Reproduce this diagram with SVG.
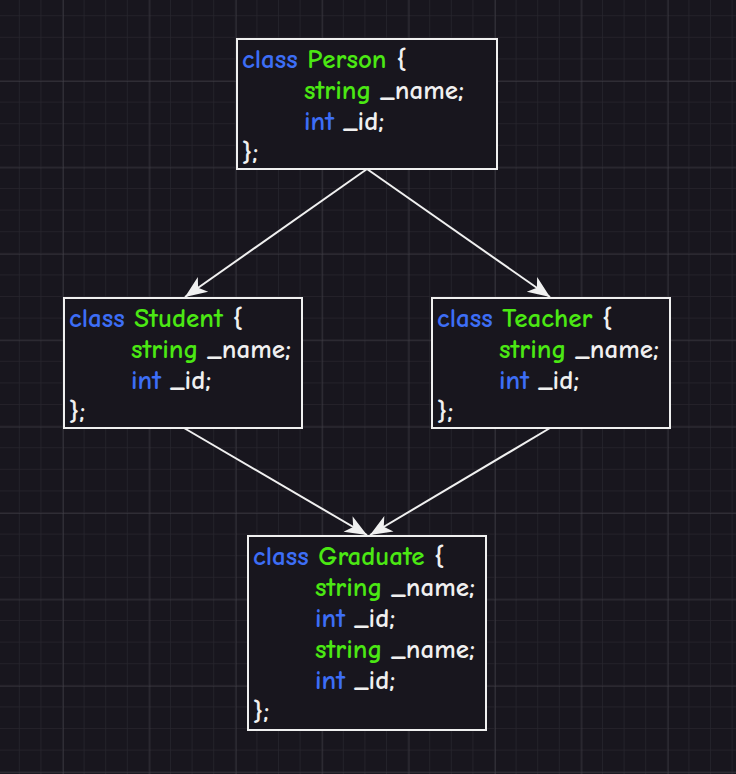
<svg xmlns="http://www.w3.org/2000/svg" width="736" height="774" viewBox="0 0 736 774">
<defs>
<pattern id="minor" width="21.6" height="21.6" patternUnits="userSpaceOnUse" x="19.8" y="16.2">
<path d="M21.6 0 V21.6 M0 21.6 H21.6" fill="none" stroke="#27252d" stroke-width="1.5"/>
</pattern>
<pattern id="major" width="86.4" height="86.4" patternUnits="userSpaceOnUse" x="63" y="81">
<path d="M0 0 V86.4 M0 0 H86.4" fill="none" stroke="#45434b" stroke-width="1"/>
</pattern>
<marker id="ah" markerUnits="userSpaceOnUse" markerWidth="24" markerHeight="24" viewBox="0 0 24 24" refX="22" refY="12" orient="auto">
<path d="M0 3 L22 12 L0 21 L6 12 Z" fill="#f0f0f0"/>
</marker>
<style>
.box{fill:#18161e;stroke:#f0f0f0;stroke-width:2}
.t{font-family:"Comic Neue","Comic Sans MS","Liberation Sans",sans-serif;font-size:27px;font-weight:bold;fill:#f0f0f0}
.k{fill:#3d6ef6}
.g{fill:#4be813}
.edge{stroke:#f0f0f0;stroke-width:2;fill:none;marker-end:url(#ah)}
</style>
</defs>
<rect width="736" height="774" fill="#18161e"/>
<rect width="736" height="774" fill="url(#minor)"/>
<rect width="736" height="774" fill="url(#major)"/>
<g id="connectors">
<line class="edge" x1="367" y1="169" x2="185" y2="297"/>
<line class="edge" x1="367" y1="169" x2="550" y2="297"/>
<line class="edge" x1="184" y1="428" x2="367" y2="535"/>
<line class="edge" x1="550" y1="428" x2="370" y2="535"/>
</g>
<g id="person">
<rect class="box" x="237" y="39" width="260" height="130"/>
<text class="t" x="242" y="68"><tspan class="k">class</tspan> <tspan class="g">Person</tspan> {</text>
<text class="t" x="304" y="99"><tspan class="g">string</tspan> _name;</text>
<text class="t" x="304" y="130"><tspan class="k">int</tspan> _id;</text>
<text class="t" x="242" y="161">};</text>
</g>
<g id="student">
<rect class="box" x="64" y="298" width="238" height="130"/>
<text class="t" x="69" y="327"><tspan class="k">class</tspan> <tspan class="g">Student</tspan> {</text>
<text class="t" x="131" y="358"><tspan class="g">string</tspan> _name;</text>
<text class="t" x="131" y="389"><tspan class="k">int</tspan> _id;</text>
<text class="t" x="69" y="420">};</text>
</g>
<g id="teacher">
<rect class="box" x="432" y="298" width="238" height="130"/>
<text class="t" x="437" y="327"><tspan class="k">class</tspan> <tspan class="g">Teacher</tspan> {</text>
<text class="t" x="499" y="358"><tspan class="g">string</tspan> _name;</text>
<text class="t" x="499" y="389"><tspan class="k">int</tspan> _id;</text>
<text class="t" x="437" y="420">};</text>
</g>
<g id="graduate">
<rect class="box" x="248" y="536" width="238" height="194"/>
<text class="t" x="253" y="565"><tspan class="k">class</tspan> <tspan class="g">Graduate</tspan> {</text>
<text class="t" x="315" y="596"><tspan class="g">string</tspan> _name;</text>
<text class="t" x="315" y="627"><tspan class="k">int</tspan> _id;</text>
<text class="t" x="315" y="658"><tspan class="g">string</tspan> _name;</text>
<text class="t" x="315" y="689"><tspan class="k">int</tspan> _id;</text>
<text class="t" x="253" y="720">};</text>
</g>
</svg>
